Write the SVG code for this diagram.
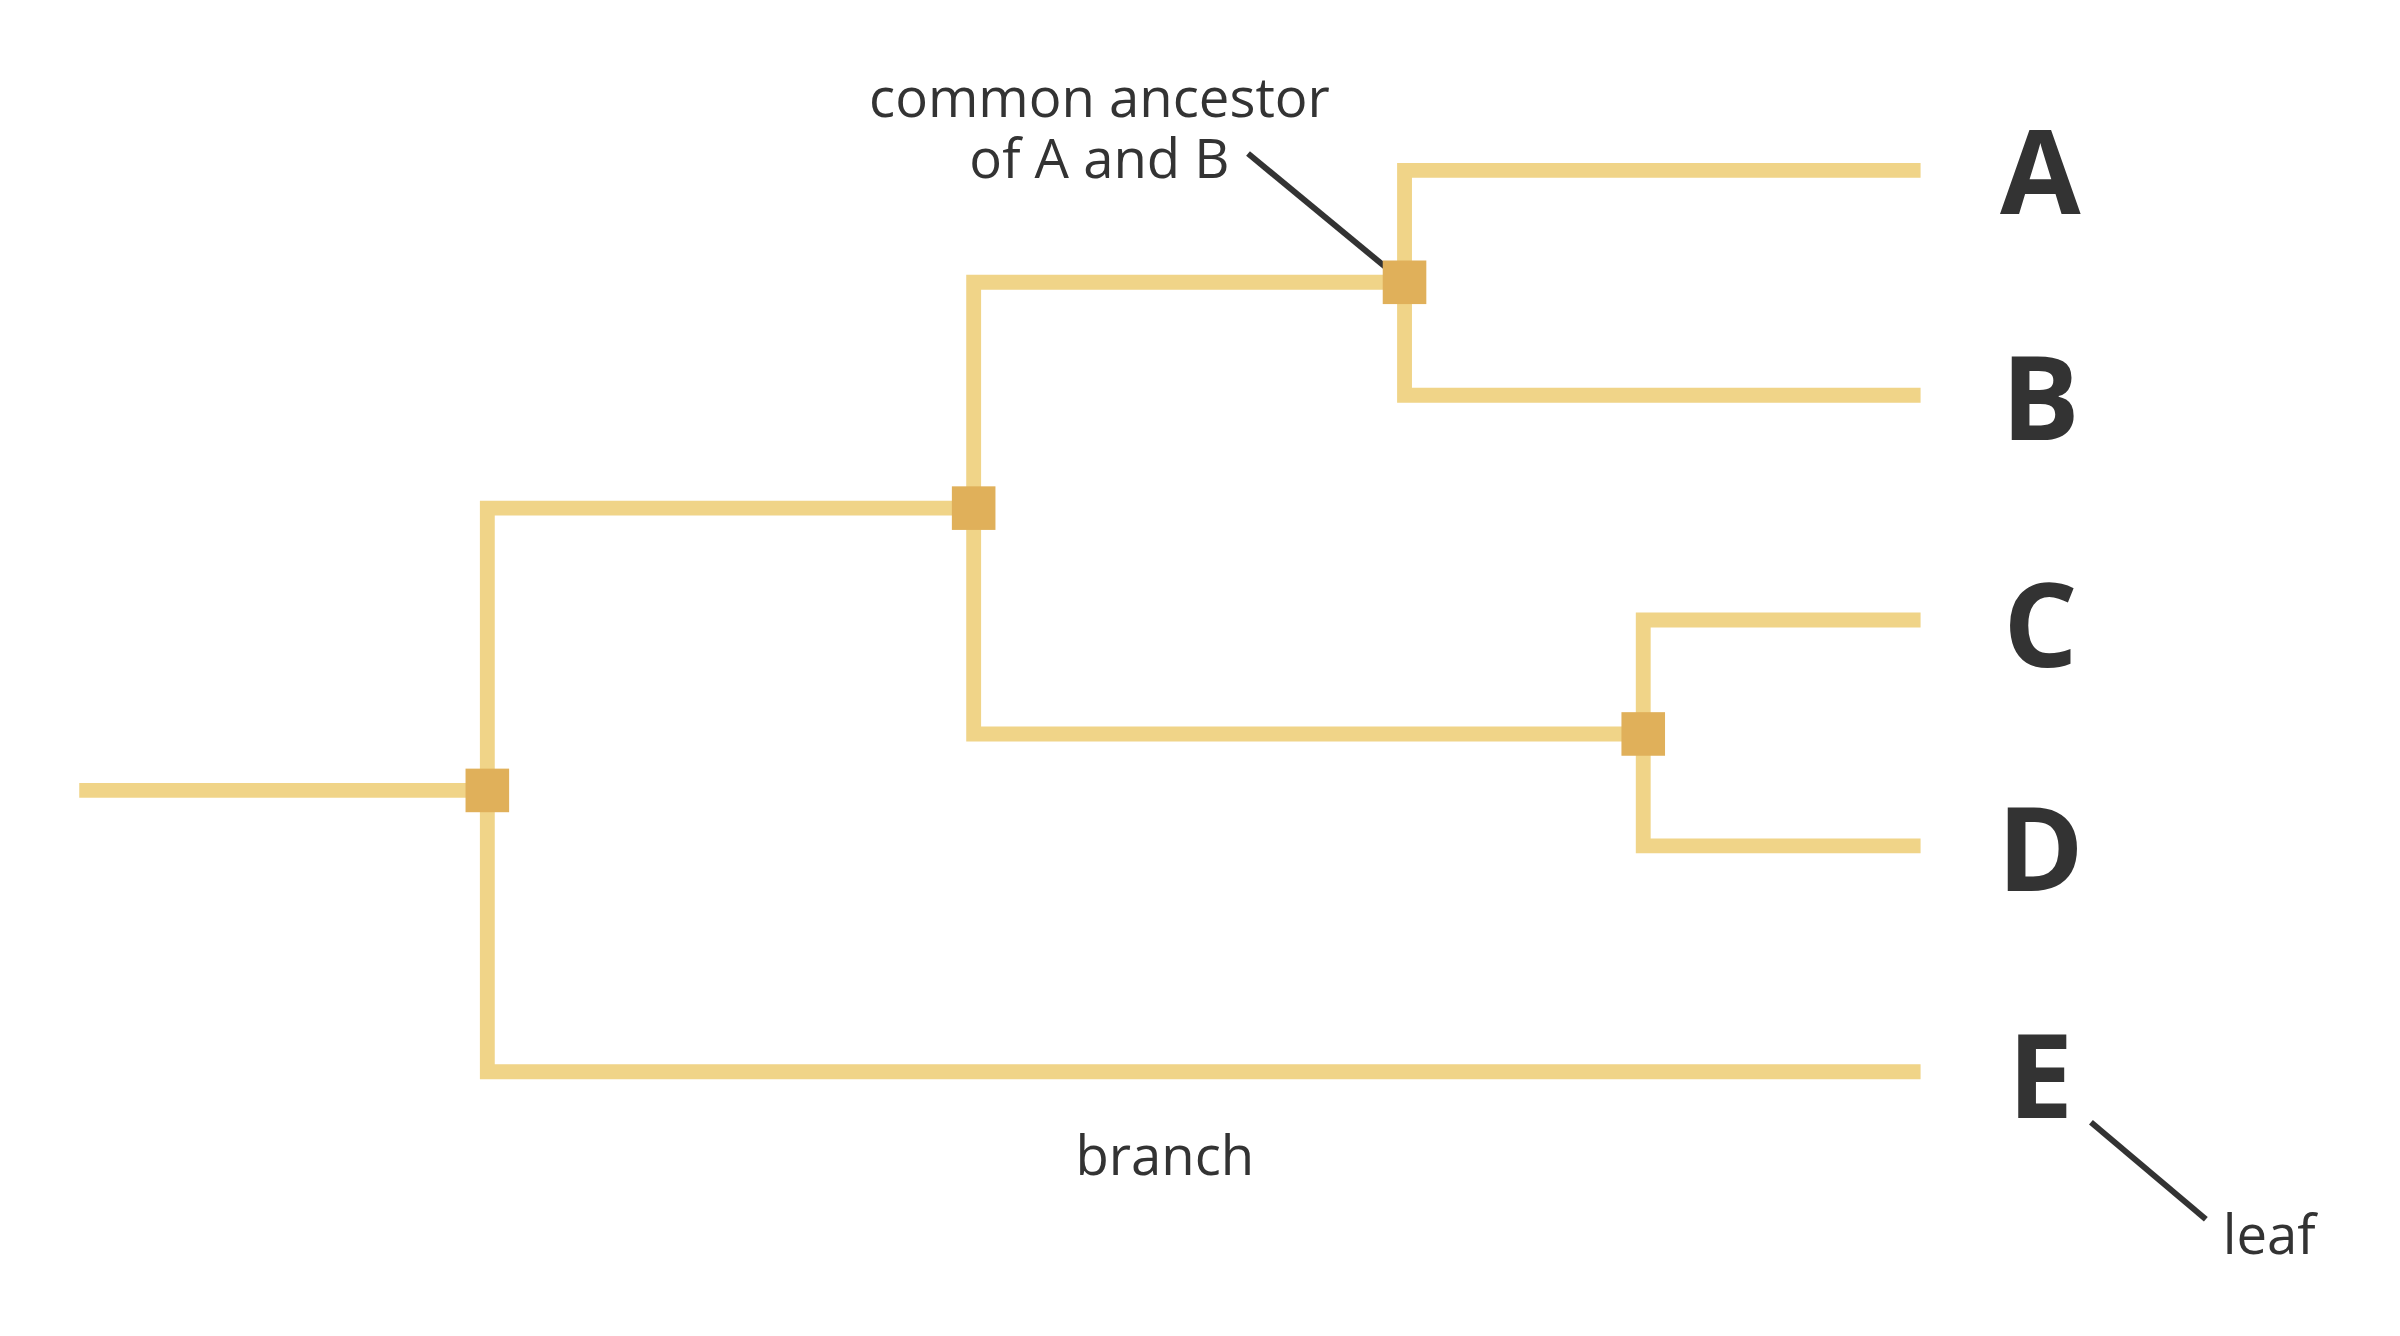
<svg xmlns="http://www.w3.org/2000/svg" width="2400" height="1336" viewBox="0 0 2400 1336">
<style>
.br{fill:none;stroke:#F0D488;stroke-width:15;stroke-linecap:butt;stroke-linejoin:miter}
.nd{fill:#E0B05A}
.ld{stroke:#333;stroke-width:6;fill:none}
.lf{font-family:"Open Sans","Liberation Sans",sans-serif;font-weight:bold;font-size:118px;fill:#333;text-anchor:middle}
.tx{font-family:"Open Sans","Liberation Sans",sans-serif;font-size:55px;fill:#333}
</style>
<rect width="2400" height="1336" fill="#fff"/>
<g transform="scale(0.9905)">
<g id="connectors">
<path class="br" d="M80 798H492"/>
<path class="br" d="M1939 1082H492V513H983"/>
<path class="br" d="M1418 285H983V741H1659"/>
<path class="br" d="M1939 172H1418V399H1939"/>
<path class="br" d="M1939 626H1659V854H1939"/>
<path class="ld" d="M1260 155L1415 283"/>
<path class="ld" d="M2111 1133L2227 1231"/>
</g>
<g id="n1"><rect class="nd" x="470" y="776" width="44" height="44"/></g>
<g id="n2"><rect class="nd" x="961" y="491" width="44" height="44"/></g>
<g id="n3"><rect class="nd" x="1396" y="263" width="44" height="44"/></g>
<g id="n4"><rect class="nd" x="1637" y="719" width="44" height="44"/></g>
<g id="A"><text class="lf" x="2060" y="216">A</text></g>
<g id="B"><text class="lf" x="2060" y="444">B</text></g>
<g id="C"><text class="lf" x="2060" y="673">C</text></g>
<g id="D"><text class="lf" x="2060" y="900">D</text></g>
<g id="E"><text class="lf" x="2060" y="1129">E</text></g>
<g id="ancestor-label"><text class="tx" text-anchor="middle" x="1110" y="118">common ancestor</text><text class="tx" text-anchor="middle" x="1110" y="180">of A and B</text></g>
<g id="branch-label"><text class="tx" text-anchor="middle" x="1176" y="1186">branch</text></g>
<g id="leaf-label"><text class="tx" x="2244" y="1266">leaf</text></g>
</g>
</svg>
